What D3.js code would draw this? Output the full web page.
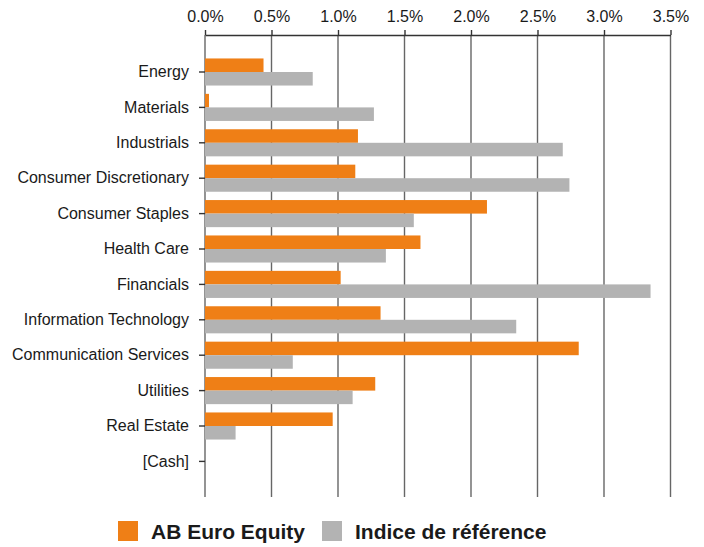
<!DOCTYPE html>
<html>
<head>
<meta charset="utf-8">
<script src="https://cdn.jsdelivr.net/npm/d3@7"></script>
<style>
  body { margin: 0; background: #fff; }
  svg { display: block; font-family: "Liberation Sans", Arial, sans-serif; }
</style>
</head>
<body>
<svg width="704" height="547"></svg>
<script>
const categories = [
  'Energy', 'Materials', 'Industrials', 'Consumer Discretionary', 'Consumer Staples',
  'Health Care', 'Financials', 'Information Technology', 'Communication Services',
  'Utilities', 'Real Estate', '[Cash]'
];
const fundValues  = [0.44, 0.03, 1.15, 1.13, 2.12, 1.62, 1.02, 1.32, 2.81, 1.28, 0.96, 0.0];
const indexValues = [0.81, 1.27, 2.69, 2.74, 1.57, 1.36, 3.35, 2.34, 0.66, 1.11, 0.23, 0.0];
const seriesNames = ['AB Euro Equity', 'Indice de référence'];
const tickValues  = [0, 0.5, 1.0, 1.5, 2.0, 2.5, 3.0, 3.5];

const colors = ['#EF7F16', '#B3B3B3'];

function draw () {
  let svg = d3.select('svg');

  let x = d3.scaleLinear().domain([0, 3.5]).range([205, 670.5]);

  let y = d3.scaleBand()
    .domain(categories)
    .range([54.3, 479.1])
    .paddingInner(0.235)
    .paddingOuter(0.1175);

  let sub = d3.scaleBand()
    .domain([0, 1])
    .range([0, y.bandwidth()]);

  // Gridlines
  svg.append('g')
    .selectAll('line')
    .data(tickValues)
    .enter().append('line')
      .attr('x1', d => x(d)).attr('x2', d => x(d))
      .attr('y1', 35).attr('y2', 497)
      .attr('stroke', '#666')
      .attr('stroke-width', 1.4);

  // Bars
  let rows = categories.map((c, i) => ({ cat: c, vals: [fundValues[i], indexValues[i]] }));

  let group = svg.append('g').selectAll('g')
    .data(rows)
    .enter().append('g')
      .attr('transform', d => `translate(0, ${y(d.cat)})`);

  group.selectAll('rect')
    .data(d => d.vals)
    .enter().append('rect')
      .attr('x', x(0))
      .attr('y', (d, i) => sub(i))
      .attr('width', d => x(d) - x(0))
      .attr('height', sub.bandwidth())
      .attr('fill', (d, i) => colors[i]);

  // Top axis
  let xAxis = d3.axisTop(x)
    .tickValues(tickValues)
    .tickFormat(d => d.toFixed(1) + '%')
    .tickSize(5)
    .tickPadding(8)
    .tickSizeOuter(0);

  svg.append('g')
    .attr('transform', 'translate(0, 35)')
    .call(xAxis)
    .call(g => {
      g.select('.domain').attr('stroke', '#333').attr('stroke-width', 1.4);
      g.selectAll('.tick line').attr('stroke', '#333').attr('stroke-width', 1.4);
      g.selectAll('text')
        .attr('font-size', 16)
        .attr('fill', '#1a1a1a')
        .attr('font-family', '"Liberation Sans", Arial, sans-serif');
    });

  // Left axis
  let yAxis = d3.axisLeft(y).tickSize(6).tickSizeOuter(0).tickPadding(10);

  svg.append('g')
    .attr('transform', `translate(${x(0)}, 0)`)
    .call(yAxis)
    .call(g => {
      g.select('.domain').remove();
      g.selectAll('.tick line').attr('stroke', '#333').attr('stroke-width', 1.4);
      g.selectAll('text')
        .attr('font-size', 16)
        .attr('fill', '#1a1a1a')
        .attr('font-family', '"Liberation Sans", Arial, sans-serif');
    });

  // Legend
  let legendX = [118, 322];
  let legend = svg.append('g').selectAll('g')
    .data(seriesNames)
    .enter().append('g')
      .attr('transform', (d, i) => `translate(${legendX[i]}, 521)`);

  legend.append('rect')
    .attr('width', 20)
    .attr('height', 20)
    .attr('fill', (d, i) => colors[i]);

  legend.append('text')
    .attr('x', 33)
    .attr('y', 18)
    .attr('font-size', 21)
    .attr('font-weight', 'bold')
    .attr('fill', '#1a1a1a')
    .text(d => d);
}

document.addEventListener('DOMContentLoaded', draw);
</script>
</body>
</html>
